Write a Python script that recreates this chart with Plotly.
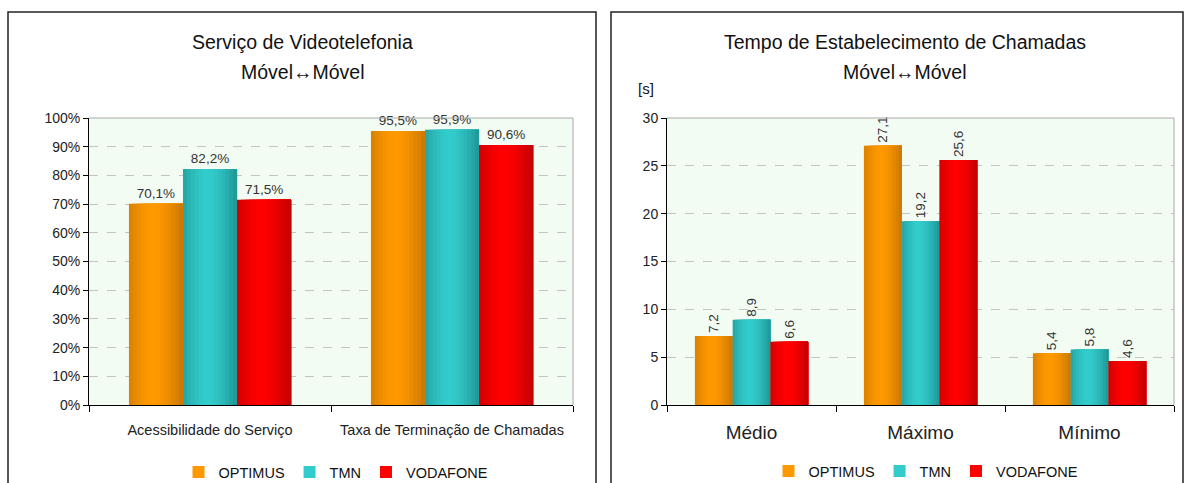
import plotly.graph_objects as go

W, H = 1185, 483

# ---- data ----
left_categories = ["Acessibilidade do Serviço", "Taxa de Terminação de Chamadas"]
left_optimus = [70.1, 95.5]
left_tmn = [82.2, 95.9]
left_vodafone = [71.5, 90.6]

right_categories = ["Médio", "Máximo", "Mínimo"]
right_optimus = [7.2, 27.1, 5.4]
right_tmn = [8.9, 19.2, 5.8]
right_vodafone = [6.6, 25.6, 4.6]

series_names = ["OPTIMUS", "TMN", "VODAFONE"]
left_ticks = [0, 10, 20, 30, 40, 50, 60, 70, 80, 90, 100]
left_tick_labels = ["0%", "10%", "20%", "30%", "40%", "50%", "60%", "70%", "80%", "90%", "100%"]
right_ticks = [0, 5, 10, 15, 20, 25, 30]

# ---- styles ----
FONT = "Liberation Sans, Arial, sans-serif"
dark = [(200, 118, 0), (31, 148, 148), (192, 0, 0)]
bright = [(255, 153, 0), (51, 204, 204), (255, 0, 0)]
N = 14
G = 0.67
w = G / 3


def px(x):
    return x / W


def py(y):
    return 1 - y / H


def col(i, t):
    f = max(0.0, 1 - abs((t - 0.45) / 0.55) ** 1.6)
    c = [round(d + (b - d) * f) for d, b in zip(dark[i], bright[i])]
    return "rgb(%d,%d,%d)" % tuple(c)


fig = go.Figure()


def add_chart(cats, series, xa, ya, legend, texttpl, textangle, textsize):
    for i, vals in enumerate(series):
        for k in range(N):
            t = (k + 0.5) / N
            start = -G / 2 + i * w + k * w / N
            fig.add_trace(go.Bar(
                x=cats, y=vals, xaxis=xa, yaxis=ya,
                offset=start, width=w - k * w / N,
                marker=dict(color=col(i, t), line=dict(width=0)),
                name=series_names[i], legendgroup=legend + series_names[i],
                showlegend=(k == N // 2 - 1), legend=legend,
                hoverinfo="skip",
            ))
        # label trace
        fig.add_trace(go.Bar(
            x=cats, y=vals, xaxis=xa, yaxis=ya,
            offset=-G / 2 + i * w, width=w,
            marker=dict(color="rgba(0,0,0,0)", line=dict(width=0)),
            text=vals, texttemplate=texttpl, textposition="outside",
            textangle=textangle, cliponaxis=False,
            textfont=dict(family=FONT, size=textsize, color="#333333"),
            showlegend=False, hoverinfo="skip",
        ))


add_chart(left_categories, [left_optimus, left_tmn, left_vodafone], "x", "y",
          "legend", "%{y:.1f}%", 0, 13.5)
add_chart(right_categories, [right_optimus, right_tmn, right_vodafone], "x2", "y2",
          "legend2", "%{y:.1f}", -90, 13.5)

bg = "#f3fcf2"
title_font = dict(size=19.5, color="#111")
fig.update_layout(
    width=W, height=H, margin=dict(l=0, r=0, t=0, b=0, autoexpand=False),
    paper_bgcolor="white", plot_bgcolor=bg,
    barmode="overlay", separators=", ",
    font=dict(family=FONT, color="#222222"),
    xaxis=dict(domain=[px(89), px(573)], type="category", range=[-0.5, 1.5],
               showline=True, linecolor="black", linewidth=1,
               ticks="outside", tickson="boundaries", ticklen=6, tickcolor="black",
               ticklabelstandoff=12, tickfont=dict(size=14.5, color="#222"),
               showgrid=False, anchor="y", fixedrange=True),
    yaxis=dict(domain=[py(405), py(118)], range=[0, 100], tickmode="array",
               tickvals=left_ticks, ticktext=left_tick_labels,
               showline=True, linecolor="black", linewidth=1,
               ticks="outside", ticklen=5, tickcolor="black",
               tickfont=dict(size=14, color="#222"),
               showgrid=True, gridcolor="#c4c4c4", griddash="dash", gridwidth=1,
               zeroline=False, anchor="x"),
    xaxis2=dict(domain=[px(667), px(1174)], type="category", range=[-0.5, 2.5],
                showline=True, linecolor="black", linewidth=1,
                ticks="outside", tickson="boundaries", ticklen=6, tickcolor="black",
                ticklabelstandoff=10, tickfont=dict(size=19, color="#222"),
                showgrid=False, anchor="y2"),
    yaxis2=dict(domain=[py(405), py(118)], range=[0, 30], tickmode="array",
                tickvals=right_ticks,
                showline=True, linecolor="black", linewidth=1,
                ticks="outside", ticklen=5, tickcolor="black",
                tickfont=dict(size=14, color="#222"),
                showgrid=True, gridcolor="#c4c4c4", griddash="dash", gridwidth=1,
                zeroline=False, anchor="x2"),
    legend=dict(orientation="h", x=px(336), xanchor="center", y=py(472), yanchor="middle",
                font=dict(size=14.5, color="#111"), bgcolor="rgba(0,0,0,0)",
                itemwidth=30, tracegroupgap=0),
    legend2=dict(orientation="h", x=px(926), xanchor="center", y=py(471), yanchor="middle",
                 font=dict(size=14.5, color="#111"), bgcolor="rgba(0,0,0,0)",
                 itemwidth=30, tracegroupgap=0),
    annotations=[
        dict(text="Serviço de Videotelefonia", x=px(303), y=py(42), xref="paper", yref="paper",
             xanchor="center", yanchor="middle", showarrow=False, font=title_font),
        dict(text="Móvel↔Móvel", x=px(303), y=py(72), xref="paper", yref="paper",
             xanchor="center", yanchor="middle", showarrow=False, font=title_font),
        dict(text="Tempo de Estabelecimento de Chamadas", x=px(905), y=py(42), xref="paper",
             yref="paper", xanchor="center", yanchor="middle", showarrow=False, font=title_font),
        dict(text="Móvel↔Móvel", x=px(905), y=py(72), xref="paper", yref="paper",
             xanchor="center", yanchor="middle", showarrow=False, font=title_font),
        dict(text="[s]", x=px(646), y=py(88), xref="paper", yref="paper",
             xanchor="center", yanchor="middle", showarrow=False,
             font=dict(size=15, color="#111")),
    ],
    shapes=[
        dict(type="rect", xref="paper", yref="paper", x0=px(8), x1=px(596), y0=py(492), y1=py(12),
             line=dict(color="#222", width=1.5)),
        dict(type="rect", xref="paper", yref="paper", x0=px(611), x1=px(1183), y0=py(492), y1=py(12),
             line=dict(color="#222", width=1.5)),
        dict(type="line", xref="x domain", yref="y domain", x0=0, x1=1, y0=1, y1=1,
             line=dict(color="#a8a8a8", width=1)),
        dict(type="line", xref="x domain", yref="y domain", x0=1, x1=1, y0=0, y1=1,
             line=dict(color="#a8a8a8", width=1)),
        dict(type="line", xref="x2 domain", yref="y2 domain", x0=0, x1=1, y0=1, y1=1,
             line=dict(color="#a8a8a8", width=1)),
        dict(type="line", xref="x2 domain", yref="y2 domain", x0=1, x1=1, y0=0, y1=1,
             line=dict(color="#a8a8a8", width=1)),
    ],
)

fig.write_html("out.html")
